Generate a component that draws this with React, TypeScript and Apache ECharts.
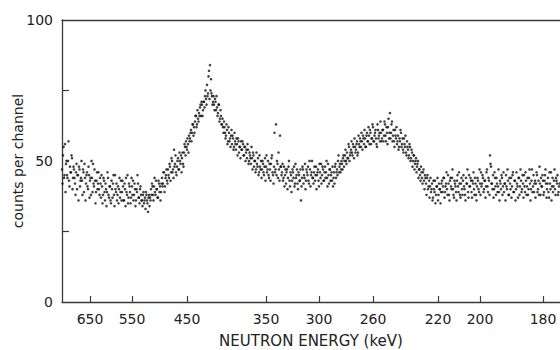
import React, { useEffect, useRef } from "react";
import * as echarts from "echarts";

// counts per channel, first sweep (channel 0 .. 497)
const countsA: number[] = [
  47, 52, 44, 56, 49, 45, 50, 43, 48, 46, 51, 44, 47, 42, 46, 40, 45, 48, 41, 44,
  43, 47, 39, 44, 42, 46, 40, 45, 43, 38, 44, 49, 41, 43, 39, 46, 42, 40, 44, 37,
  41, 38, 43, 36, 40, 39, 44, 37, 41, 35, 40, 42, 38, 45, 39, 36, 41, 40, 37, 43,
  39, 41, 36, 40, 44, 38, 35, 42, 39, 37, 41, 43, 38, 40, 36, 39, 42, 37, 40, 38,
  36, 38, 35, 37, 39, 36, 32, 38, 37, 40, 42, 38, 41, 39, 43, 40, 37, 42, 41, 39,
  44, 42, 46, 41, 45, 43, 47, 44, 48, 46, 50, 47, 54, 49, 46, 48, 51, 47, 50, 52,
  51, 49, 53, 55, 57, 54, 56, 59, 58, 61, 60, 63, 62, 64, 66, 63, 65, 67, 69, 66,
  70, 68, 71, 73, 72, 77, 74, 82, 84, 79, 73, 71, 70, 72, 68, 69, 67, 70, 65, 66,
  63, 62, 64, 60, 59, 61, 57, 60, 58, 59, 56, 58, 55, 57, 54, 56, 58, 53, 55, 57,
  54, 56, 52, 55, 53, 51, 54, 50, 52, 49, 51, 53, 48, 50, 47, 49, 51, 46, 48, 50,
  47, 49, 45, 51, 48, 46, 50, 44, 47, 49, 52, 45, 48, 46, 63, 50, 44, 47, 59, 48,
  46, 43, 48, 45, 42, 47, 44, 50, 41, 45, 43, 46, 48, 42, 44, 47, 40, 45, 43, 36,
  44, 47, 45, 49, 43, 46, 48, 42, 47, 45, 50, 44, 46, 43, 48, 45, 47, 41, 46, 49,
  45, 47, 43, 48, 46, 44, 49, 42, 47, 45, 43, 41, 46, 48, 44, 47, 50, 46, 49, 47,
  49, 51, 48, 52, 50, 53, 51, 55, 52, 54, 53, 56, 51, 55, 54, 57, 53, 56, 58, 55,
  57, 59, 56, 58, 55, 60, 57, 59, 61, 56, 58, 62, 57, 60, 58, 55, 61, 59, 57, 60,
  58, 61, 59, 63, 57, 60, 62, 58, 67, 60, 64, 59, 57, 61, 58, 56, 59, 55, 57, 60,
  56, 54, 58, 55, 53, 57, 54, 52, 55, 51, 53, 50, 52, 49, 51, 48, 50, 47, 45, 48,
  44, 46, 43, 45, 42, 44, 40, 43, 41, 39, 42, 37, 40, 43, 38, 41, 36, 42, 40, 39,
  43, 41, 44, 39, 42, 40, 45, 38, 43, 41, 44, 40, 37, 42, 39, 43, 41, 46, 38, 42,
  40, 43, 41, 38, 44, 42, 39, 45, 41, 43, 37, 42, 40, 44, 38, 41, 43, 39, 42, 46,
  42, 44, 40, 43, 41, 47, 39, 43, 52, 48, 42, 45, 40, 44, 38, 42, 41, 39, 43, 40,
  44, 41, 39, 42, 45, 40, 43, 38, 42, 44, 41, 46, 39, 43, 40, 42, 37, 44, 41, 43,
  40, 42, 45, 39, 43, 41, 38, 44, 42, 40, 47, 41, 39, 43, 42, 45, 40, 38, 42, 44,
  41, 43, 39, 45, 42, 40, 44, 37, 42, 46, 41, 39, 43, 40, 44, 42, 38, 41,
];

// counts per channel, second sweep (half channel later)
const countsB: number[] = [
  42, 55, 45, 39, 50, 44, 57, 41, 46, 52, 40, 48, 44, 38, 49, 45, 36, 47, 43, 50,
  38, 46, 49, 36, 45, 41, 48, 37, 44, 50, 39, 42, 47, 35, 43, 40, 46, 38, 42, 45,
  35, 44, 39, 42, 34, 46, 38, 41, 36, 43, 37, 45, 34, 40, 42, 38, 35, 44, 39, 36,
  43, 36, 42, 34, 39, 45, 37, 41, 35, 44, 38, 36, 42, 34, 40, 45, 37, 35, 41, 36,
  34, 39, 36, 33, 38, 35, 37, 34, 36, 38, 41, 36, 44, 38, 40, 37, 43, 39, 36, 42,
  41, 46, 39, 44, 47, 42, 45, 49, 43, 51, 46, 44, 48, 52, 45, 50, 47, 53, 49, 46,
  53, 48, 56, 52, 55, 58, 53, 57, 60, 57, 63, 59, 60, 66, 62, 68, 64, 66, 70, 71,
  66, 71, 69, 75, 70, 73, 80, 72, 75, 74, 70, 73, 68, 71, 73, 66, 70, 64, 68, 63,
  65, 60, 62, 58, 63, 56, 62, 57, 55, 61, 59, 54, 60, 56, 58, 52, 57, 55, 51, 54,
  57, 52, 55, 50, 54, 56, 49, 53, 51, 55, 47, 52, 50, 46, 53, 48, 45, 52, 47, 44,
  50, 46, 48, 43, 52, 47, 45, 49, 43, 51, 46, 42, 60, 47, 45, 49, 53, 43, 48, 45,
  49, 44, 41, 47, 46, 40, 48, 43, 46, 39, 47, 44, 41, 49, 45, 42, 46, 43, 47, 41,
  48, 42, 44, 40, 47, 45, 43, 50, 41, 46, 44, 42, 48, 45, 40, 46, 43, 49, 44, 42,
  48, 43, 46, 44, 50, 41, 45, 47, 43, 46, 48, 44, 42, 49, 46, 45, 52, 48, 46, 50,
  47, 52, 50, 54, 49, 51, 56, 50, 53, 57, 52, 55, 58, 53, 56, 52, 59, 55, 57, 60,
  54, 58, 61, 55, 59, 57, 62, 56, 60, 58, 63, 57, 59, 61, 56, 63, 58, 60, 64, 57,
  61, 57, 64, 59, 62, 56, 65, 60, 58, 63, 57, 61, 55, 59, 62, 57, 54, 58, 61, 55,
  58, 53, 56, 59, 52, 55, 51, 56, 50, 54, 48, 52, 47, 50, 46, 49, 44, 47, 43, 46,
  42, 47, 40, 44, 38, 45, 41, 37, 44, 40, 36, 43, 39, 35, 41, 44, 38, 40, 35, 42,
  39, 44, 37, 41, 46, 38, 42, 36, 44, 40, 47, 38, 43, 41, 36, 45, 39, 42, 37, 44,
  38, 45, 40, 36, 42, 47, 37, 41, 44, 39, 43, 46, 38, 42, 36, 44, 40, 47, 38, 41,
  45, 39, 43, 37, 46, 41, 44, 38, 49, 42, 40, 37, 46, 41, 44, 39, 47, 36, 42, 45,
  38, 46, 42, 36, 41, 47, 38, 44, 40, 37, 45, 39, 43, 36, 46, 41, 44, 38, 47, 39,
  45, 37, 41, 46, 38, 44, 40, 47, 36, 43, 39, 45, 42, 37, 46, 39, 43, 48, 38, 41,
  45, 38, 43, 47, 37, 42, 39, 46, 40, 36, 44, 41, 47, 38, 43, 45, 39, 42,
];

// energy tick labels (keV) and the channel at which each sits
const energyTickChannels: number[] = [28, 70, 125, 204, 257, 311, 376, 418, 481];
const energyTickLabels: string[] = ["650", "550", "450", "350", "300", "260", "220", "200", "180"];

const yLabelValues: number[] = [0, 50, 100];
const yTickValues: number[] = [25, 75];

const FONT = "DejaVu Sans";
const AXIS_COLOR = "#3a3a3a";
const TEXT_COLOR = "#222";

export default function App() {
  const ref = useRef<HTMLDivElement>(null);

  useEffect(() => {
    if (!ref.current) return;
    const chart = echarts.init(ref.current, undefined, { renderer: "svg" });
    const labelMap: Record<number, string> = {};
    energyTickChannels.forEach((c, i) => (labelMap[c] = energyTickLabels[i]));
    const dataA = countsA.map((v, i) => [i, v]);
    const dataB = countsB.map((v, i) => [i + 0.5, v]);

    chart.setOption({
      animation: false,
      backgroundColor: "#fff",
      grid: { left: 62, right: 0, top: 20, bottom: 48, outerBoundsMode: "none", containLabel: false },
      xAxis: [
        {
          type: "value",
          position: "bottom",
          min: 0,
          max: 498,
          name: "NEUTRON ENERGY (keV)",
          nameLocation: "middle",
          nameGap: 31,
          nameMoveOverlap: false,
          nameTextStyle: { fontFamily: FONT, fontSize: 15, color: TEXT_COLOR },
          axisLine: { show: true, lineStyle: { color: AXIS_COLOR, width: 1.3 } },
          axisTick: {
            show: true,
            inside: true,
            length: 6,
            customValues: energyTickChannels,
            lineStyle: { color: AXIS_COLOR, width: 1.2 },
          },
          axisLabel: {
            customValues: energyTickChannels,
            formatter: (v: number) => labelMap[v] ?? "",
            fontFamily: FONT,
            fontSize: 14,
            color: TEXT_COLOR,
            margin: 10,
          },
          splitLine: { show: false },
        },
        {
          type: "value",
          position: "top",
          min: 0,
          max: 498,
          axisLine: { show: true, lineStyle: { color: AXIS_COLOR, width: 1.3 } },
          axisTick: { show: false },
          axisLabel: { show: false },
          splitLine: { show: false },
        },
      ],
      yAxis: {
        type: "value",
        min: 0,
        max: 100,
        name: "counts per channel",
        nameLocation: "middle",
        nameGap: 37,
        nameMoveOverlap: false,
        nameTextStyle: { fontFamily: FONT, fontSize: 14, color: TEXT_COLOR },
        axisLine: { show: true, lineStyle: { color: AXIS_COLOR, width: 1.3 } },
        axisTick: {
          show: true,
          inside: true,
          length: 7,
          customValues: yTickValues,
          lineStyle: { color: AXIS_COLOR, width: 1.2 },
        },
        axisLabel: {
          customValues: yLabelValues,
          fontFamily: FONT,
          fontSize: 14,
          color: TEXT_COLOR,
          margin: 9,
        },
        splitLine: { show: false },
      },
      series: [
        {
          type: "scatter",
          xAxisIndex: 0,
          data: dataA,
          symbol: "circle",
          symbolSize: 2.6,
          itemStyle: { color: "#111" },
        },
        {
          type: "scatter",
          xAxisIndex: 0,
          data: dataB,
          symbol: "circle",
          symbolSize: 2.6,
          itemStyle: { color: "#111" },
        },
      ],
    });
    return () => chart.dispose();
  }, []);

  return (
    <div
      ref={ref}
      style={{ position: "fixed", left: 0, top: 0, width: 560, height: 350 }}
    />
  );
}
